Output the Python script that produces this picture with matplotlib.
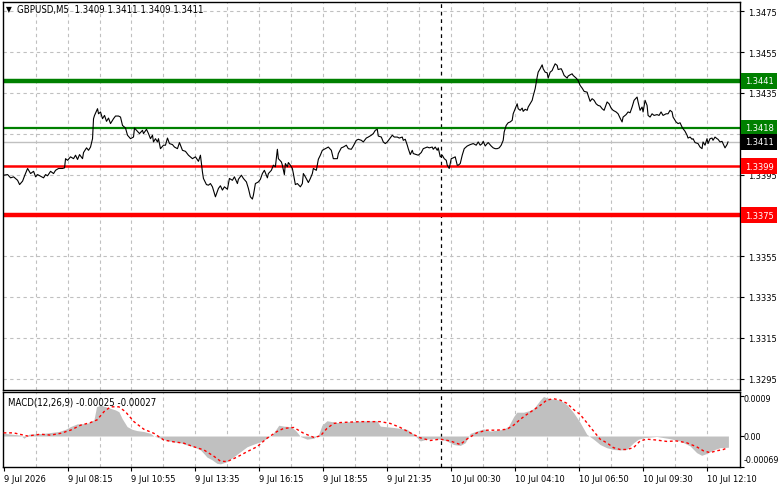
import matplotlib
matplotlib.use("Agg")
import matplotlib.pyplot as plt
import matplotlib.transforms as mtransforms

plt.rcParams["font.family"] = ["DejaVu Sans Condensed", "DejaVu Sans"]
plt.rcParams["font.stretch"] = "condensed"

# ---------------- data ----------------
price_bars = [0, 2, 3.5, 5, 7, 8, 9.5, 10.5, 12, 13.5, 15, 16, 17, 18.5, 20, 21, 22, 23.5, 25, 26,
              27.5, 29.5, 30.5, 31, 32, 33.5, 35, 36, 37, 38, 39.5, 40, 41.5, 42.5, 43.5, 44.5, 45, 45.5, 47, 47.5,
              48.5, 49.5, 50.5, 51.5, 52.5, 53.5, 55, 56, 57.5, 58.5, 59.5, 61, 62, 63.5, 65, 65.5, 67, 68, 69.5, 70,
              71.5, 72.5, 73.5, 74.5, 75, 76, 77, 77.5, 78.5, 80, 81, 82, 83, 84.5, 85.5, 87, 88, 89.5, 91,
              92.5, 94.5, 96, 97.5, 98.5, 99.5, 100, 101.5, 102.5, 103.5, 104.5, 106, 107.5, 108.5, 109.5, 110.5,
              112, 113, 114.5, 115.5, 117, 117.5, 119, 120, 121.5, 122.5, 123.5, 124.5, 125, 126, 127.5, 128.5,
              129.5, 130.5, 132, 132.5, 134, 135, 136, 137, 137.5, 139, 139.5, 140.5, 141, 142, 142.5, 143.5,
              144.5, 145, 146, 147, 148.5, 149.5, 150, 151, 152.5, 153.5, 154.5, 155, 156.5, 157.5, 158.5, 159.5,
              161, 162.5, 164, 165, 167, 167.5, 169, 170, 171.5, 172.5, 174, 175, 176.5, 177.5, 179, 180, 181.5,
              182.5, 184,
              185, 186, 187, 187.5, 189, 190, 191, 192, 193, 194.5, 195.5, 197, 198, 199.5, 200, 201, 202, 202.5,
              203.5, 204.5, 205, 206.5, 207.5, 209, 210, 212, 213, 214.5, 215, 216, 217, 217.5, 218.5, 219.5,
              220.5, 221.5, 222, 223, 224, 225, 226, 227, 227.5, 228.5, 229.5, 230.5, 232, 233.5, 235, 236.5,
              237.5, 238.5, 239.5, 240, 241, 242, 242.5, 244, 245, 246, 247, 248, 249, 250, 250.5, 251.5, 252.5,
              253.5, 254.5, 255, 256, 257, 257.5, 258.5, 259.5, 260, 261, 262, 262.5, 263.5, 264.5, 265, 266, 267,
              267.5, 268.5, 269.5, 270, 271, 272, 272.5, 273.5, 274.5, 275, 276,
              277, 277.5, 279, 279.5, 280.5, 282, 282.5, 283.5, 284.5, 285, 286.5, 287.5, 288.5, 289.5, 290.5,
              292, 292.5, 293.5, 294.5, 295.5, 296.5, 297.5, 298.5, 299.5, 300.5, 302, 303, 304, 305, 306.5,
              307.5, 308.5, 309.5, 310, 311.5, 312.5, 313.5, 314.5, 315.5, 317, 317.5, 318.5, 319.5, 320, 321,
              322, 322.5, 323.5, 324.5, 325.5, 327, 328, 329, 330, 331.5, 332.5, 333.5, 334.5, 335, 336.5, 337.5,
              338.5, 339.5, 340, 341, 342, 342.5, 343.5, 344.5, 345, 346, 347.5, 348.5, 349.5, 350, 351, 352,
              352.5, 353.5, 354.5, 355, 356, 357, 357.5, 358.5, 359.5, 360, 361, 362, 362.5]

close = [1.33947, 1.33950, 1.33934, 1.33939, 1.33922, 1.33901, 1.33918, 1.33944, 1.33980, 1.33955,
         1.33966, 1.33939, 1.33950, 1.33942, 1.33934, 1.33950, 1.33944, 1.33966, 1.33955, 1.33971,
         1.33980, 1.33980, 1.33983, 1.34028, 1.34020, 1.34037, 1.34028, 1.34045, 1.34024, 1.34048,
         1.34028, 1.34058, 1.34081, 1.34069, 1.34085, 1.34126, 1.34224, 1.34240, 1.34273, 1.34248,
         1.34257, 1.34224, 1.34240, 1.34211, 1.34227, 1.34200, 1.34224, 1.34237, 1.34237, 1.34232,
         1.34191, 1.34178, 1.34143, 1.34126, 1.34134, 1.34178, 1.34162, 1.34151, 1.34167, 1.34151,
         1.34172, 1.34151, 1.34126, 1.34143, 1.34110, 1.34126, 1.34110, 1.34126, 1.34077, 1.34094,
         1.34094, 1.34129, 1.34102, 1.34097, 1.34085, 1.34077, 1.34107, 1.34069, 1.34064,
         1.34045, 1.34028, 1.34037, 1.34015, 1.34045, 1.33963, 1.33931, 1.33901, 1.33898, 1.33906,
         1.33890, 1.33841, 1.33882, 1.33895, 1.33874, 1.33890, 1.33878, 1.33931, 1.33922, 1.33939,
         1.33906, 1.33927, 1.33947, 1.33931, 1.33914, 1.33882, 1.33841, 1.33830, 1.33849, 1.33906,
         1.33914, 1.33927, 1.33955, 1.33971, 1.33934, 1.33955, 1.33971, 1.33996, 1.33988, 1.34074,
         1.34028, 1.34012, 1.33996, 1.33950, 1.34004, 1.33988, 1.34009, 1.33996, 1.33980, 1.33955,
         1.33901, 1.33906, 1.33890, 1.33906, 1.33955, 1.33939, 1.33911, 1.33931, 1.33955, 1.33980,
         1.33971, 1.34025, 1.34045, 1.34069, 1.34077, 1.34085, 1.34069, 1.34028, 1.34028, 1.34053,
         1.34081, 1.34085, 1.34094, 1.34077, 1.34074, 1.34090, 1.34118, 1.34123, 1.34118, 1.34110,
         1.34129, 1.34134, 1.34143,
         1.34151, 1.34167, 1.34172, 1.34139, 1.34134, 1.34110, 1.34102, 1.34110, 1.34123, 1.34143,
         1.34134, 1.34134, 1.34129, 1.34134, 1.34118, 1.34123, 1.34094, 1.34077, 1.34048, 1.34069,
         1.34053, 1.34048, 1.34045, 1.34058, 1.34077, 1.34085, 1.34081, 1.34085, 1.34074, 1.34085,
         1.34069, 1.34081, 1.34037, 1.34045, 1.34028, 1.34020, 1.33996, 1.33980, 1.34028, 1.34032,
         1.34037, 1.33996, 1.33996, 1.34004, 1.34045, 1.34077, 1.34090, 1.34097, 1.34102, 1.34094,
         1.34110, 1.34094, 1.34102, 1.34113, 1.34090, 1.34102, 1.34107, 1.34090, 1.34081, 1.34077,
         1.34077, 1.34081, 1.34094, 1.34118, 1.34159, 1.34191, 1.34204, 1.34208, 1.34216, 1.34248,
         1.34273, 1.34297, 1.34273, 1.34265, 1.34276, 1.34260, 1.34270, 1.34265, 1.34281, 1.34297,
         1.34314, 1.34335, 1.34371, 1.34428, 1.34452, 1.34469, 1.34488, 1.34469, 1.34452, 1.34449,
         1.34423, 1.34452, 1.34460, 1.34472, 1.34493,
         1.34485, 1.34465, 1.34469, 1.34460, 1.34436, 1.34423, 1.34433, 1.34439, 1.34444, 1.34436,
         1.34423, 1.34411, 1.34387, 1.34374, 1.34358, 1.34354, 1.34338, 1.34309, 1.34322, 1.34314,
         1.34297, 1.34289, 1.34286, 1.34273, 1.34265, 1.34306, 1.34297, 1.34276, 1.34265, 1.34257,
         1.34248, 1.34227, 1.34208, 1.34232, 1.34244, 1.34257, 1.34253, 1.34281, 1.34314, 1.34330,
         1.34306, 1.34265, 1.34281, 1.34257, 1.34314, 1.34289, 1.34240, 1.34232, 1.34248, 1.34240,
         1.34244, 1.34240, 1.34257, 1.34240, 1.34248, 1.34248, 1.34265, 1.34257, 1.34232, 1.34208,
         1.34200, 1.34204, 1.34183, 1.34175, 1.34162, 1.34143, 1.34129, 1.34134, 1.34123, 1.34126,
         1.34107, 1.34102, 1.34085, 1.34077, 1.34110, 1.34094, 1.34126, 1.34102, 1.34126, 1.34129,
         1.34118, 1.34134, 1.34126, 1.34123, 1.34110, 1.34113, 1.34102, 1.34081, 1.34097, 1.34110]

hist_bars = [0, 8.5, 10.2, 12.7, 20.2, 27.7, 31, 33.5, 36.8, 41.8, 45.2, 46.5, 48.5, 51.8, 56, 57.7, 59.3,
             61.8, 64.3, 66.8, 70.2, 73.5, 75.2, 78.5, 81.8, 85.2, 88.5, 91.8, 95.2, 98.5, 100.2, 101.8,
             104.3, 106.8, 108.5, 111.8, 115.2, 118.5, 121.8, 125.2, 128.5, 131.8, 134.3, 136, 137.7, 140.2,
             143.5, 146, 148.5, 151.8, 155.2, 157.7, 159.3, 161.8, 166.8, 173.5, 181.8, 186.8, 188.5, 195.2,
             201.8, 205.2, 208.5, 211.8, 215.2, 218.5, 221.8, 225.2, 228.5, 231, 233.5, 236.8, 240.2, 243.5,
             246.8, 250.2, 252.7, 255.2, 256.8, 260.2, 262.7, 265.2, 266.8, 268.5, 270.2, 271.8, 275.2, 278.5,
             281.8, 285.2, 288.5, 291.8, 295.2, 298.5, 301.8, 305.2, 308.5, 311.8, 315.2, 317.7, 320.2, 326.8,
             333.5, 338.5, 343.5, 346.8, 349.3, 351.8, 355.2, 358.5, 362.7]
hist_vals = [0.00006, 0.00002, -0.00005, 0.00004, 0.00006, 0.0001, 0.00015, 0.00021, 0.00027, 0.00028,
             0.00036, 0.00065, 0.00069, 0.00064, 0.00058, 0.00054, 0.00039, 0.00021, 0.00015, 0.00012,
             0.0001, 0.00006, 0.0, -0.00005, -0.0001, -0.00013, -0.00015, -0.0002, -0.00024, -0.00031,
             -0.00039, -0.00047, -0.00053, -0.00061, -0.00062, -0.00057, -0.00046, -0.00035, -0.00024, -0.00018,
             -0.00013, -0.00005, 0.00002, 0.00013, 0.00024, 0.00022, 0.00021, 0.00013, -0.00001, -0.00007,
             -0.00005, 0.00004, 0.00024, 0.00034, 0.0003, 0.00032, 0.00034, 0.00034, 0.00022, 0.00019,
             0.00015, 0.00004, -0.00011, -0.00007, -0.00006, -0.00007, -0.00011, -0.00019, -0.00021, -0.00015,
             0.00006, 0.00011, 0.00016, 0.00011, 0.00013, 0.00015, 0.00022, 0.00043, 0.00053, 0.00053,
             0.00056, 0.00061, 0.0007, 0.0008, 0.00088, 0.00085, 0.00082, 0.0008, 0.0007, 0.00052,
             0.0003, 0.00004, -0.00007, -0.00019, -0.00026, -0.0003, -0.00031, -0.0003, -0.00015, -0.00007,
             -0.00004, -0.00001, -0.00006, -0.00011, -0.00022, -0.00037, -0.00043, -0.00039, -0.00031, -0.00026,
             -0.00025]

signal_bars = [0, 5, 12, 18.5, 23.5, 28.5, 33.5, 38.5, 43.5, 46.8, 50.2, 53.5, 57.7, 61, 65.2, 70.2, 75.2,
               80.2, 85.2, 90.2, 95.2, 100.2, 105.2, 108.5, 111.8, 116.8, 121.8, 126.8, 131.8, 136.8, 140.2,
               145.2, 150.2, 155.2, 158.5, 161.8, 165.2, 168.5, 178.5, 188.5, 193.5, 198.5, 203.5, 208.5, 213.5,
               218.5, 223.5, 228.5, 231.8, 236.8, 241.8, 246.8, 251.8, 255.2, 258.5, 261.8, 265.2, 268.5, 271.8,
               275.2, 278.5, 281.8, 285.2, 288.5, 291.8, 295.2, 298.5, 301.8, 305.2, 308.5, 311.8, 315.2, 318.5,
               321.8, 326.8, 331.8, 336.8, 341.8, 346.8, 350.2, 353.5, 356.8, 360.2, 361.8]
signal_vals = [0.00007, 0.00007, 0.0, 0.00004, 0.00002, 0.00006, 0.00013, 0.00024, 0.0003, 0.00036,
               0.00054, 0.00065, 0.00065, 0.00054, 0.00032, 0.00015, 0.00006, -0.00009, -0.00013, -0.00016,
               -0.00024, -0.00031, -0.00045, -0.00056, -0.00057, -0.00047, -0.00035, -0.00024, -0.00005, 0.0001,
               0.00017, 0.00019, 0.00006, -0.00003, 0.0, 0.00017, 0.00028, 0.0003, 0.00032, 0.00032,
               0.00028, 0.00019, 0.00007, -0.00004, -0.0001, -0.00007, -0.00011, -0.00019, -0.00007, 0.00007,
               0.00013, 0.00013, 0.00015, 0.00024, 0.00037, 0.00048, 0.00058, 0.00068, 0.0008, 0.00083,
               0.0008, 0.00073, 0.00059, 0.00048, 0.0003, 0.00011, -0.00007, -0.00015, -0.00026, -0.0003,
               -0.0003, -0.00026, -0.00011, -0.00007, -0.00009, -0.00012, -0.00011, -0.00015, -0.00024, -0.00033,
               -0.00037, -0.00033, -0.0003, -0.00027]

price_ticks = [1.3475, 1.3455, 1.3435, 1.3415, 1.3395, 1.3375, 1.3355, 1.3335, 1.3315, 1.3295]
levels = [1.3441, 1.3418, 1.3399, 1.3375]
level_colors = ["#008000", "#008000", "#ff0000", "#ff0000"]
level_widths = [3.2, 1.6, 1.8, 3.2]
last_price = 1.3411

time_tick_bars = [0, 32, 64, 96, 128, 160, 192, 224, 256, 288, 320, 352]
time_tick_labels = ["9 Jul 2026", "9 Jul 08:15", "9 Jul 10:55", "9 Jul 13:35", "9 Jul 16:15",
                    "9 Jul 18:55", "9 Jul 21:35", "10 Jul 00:30", "10 Jul 04:10", "10 Jul 06:50",
                    "10 Jul 09:30", "10 Jul 12:10"]
day_separator_bar = 219
macd_ticks = [0.0009, 0.0, -0.00069]
macd_tick_labels = ["0.0009", "0.00", "-0.00069"]
header = "GBPUSD,M5  1.3409 1.3411 1.3409 1.3411"
macd_header = "MACD(12,26,9) -0.00025 -0.00027"

# ---------------- layout ----------------
W, H = 781, 489
fig = plt.figure(figsize=(W / 100, H / 100), dpi=100, facecolor="white")


def px_rect(l, t, r, b):
    return [l / W, 1 - b / H, (r - l) / W, (b - t) / H]


ax = fig.add_axes(px_rect(3, 3, 740, 391))
ax2 = fig.add_axes(px_rect(3, 393, 740, 468), sharex=ax)

FS = 6.7
GRID = dict(color="#c0c0c0", lw=0.8, ls=(0, (3, 3)), zorder=0)
XMIN, XMAX = -0.3, 368.5

for a in (ax, ax2):
    for s in a.spines.values():
        s.set_color("black")
        s.set_linewidth(1.0)
    for gb in range(16, int(XMAX), 16):
        a.axvline(gb, **GRID)
    a.axvline(day_separator_bar, color="black", lw=0.9, ls=(0, (3, 3)), zorder=1)

# main panel
ax.set_xlim(XMIN, XMAX)
ax.set_ylim(1.32894, 1.34796)
for t in price_ticks:
    ax.axhline(t, **GRID)
ax.axhline(last_price, color="#c0c0c0", lw=1.0, zorder=1)
for lv, c, w in zip(levels, level_colors, level_widths):
    ax.axhline(lv, color=c, lw=w, zorder=2)
ax.plot(price_bars, close, color="black", lw=0.8, zorder=3)

ax.yaxis.tick_right()
ax.set_yticks(price_ticks)
# the 1.3375 tick label is fully hidden by the red level box in the reference
ax.set_yticklabels(["" if t in levels else f"{t:.4f}" for t in price_ticks])
ax.tick_params(axis="y", direction="out", length=3, width=0.8, pad=3, labelsize=FS, colors="black")
ax.tick_params(axis="x", bottom=False, labelbottom=False)

trans_lbl = mtransforms.blended_transform_factory(ax.transAxes, ax.transData)
box_items = list(zip(levels, level_colors)) + [(last_price, "black")]
for lv, c in box_items:
    ax.text(1.0 + 5 / 737, lv, f"{lv:.4f}", transform=trans_lbl, ha="left", va="center",
            fontsize=FS, color="white", zorder=10, clip_on=False,
            bbox=dict(boxstyle="square,pad=0.38", fc=c, ec="none"))

fig.text(6 / W, 1 - 10 / H, "\u25bc", fontsize=6, ha="left", va="center", color="black")
fig.text(17 / W, 1 - 10 / H, header, fontsize=6.9, ha="left", va="center", color="black")

# MACD panel
ax2.set_ylim(-0.00069, 0.00098)
ax2.fill_between(hist_bars, 0, hist_vals, color="#c0c0c0", lw=0, zorder=2)
ax2.plot(signal_bars, signal_vals, color="#ff0000", lw=1.0, ls=(0, (2, 2)), zorder=3)
ax2.yaxis.tick_right()
ax2.set_yticks(macd_ticks)
ax2.set_yticklabels([])
ax2.tick_params(axis="y", direction="out", length=3, width=0.8, labelsize=FS)
trans2 = mtransforms.blended_transform_factory(ax2.transAxes, ax2.transData)
offsets = [-3, 0, 7]
for v, lab, off in zip(macd_ticks, macd_tick_labels, offsets):
    ax2.text(1.0 + 4 / 737, v, lab,
             transform=trans2 + mtransforms.ScaledTranslation(0, off / 100, fig.dpi_scale_trans),
             ha="left", va="center", fontsize=6.4, clip_on=False)
ax2.text(5 / 737, 0.87, macd_header, transform=ax2.transAxes, ha="left", va="center", fontsize=6.9)

ax2.set_xticks(time_tick_bars)
ax2.set_xticklabels(time_tick_labels)
ax2.tick_params(axis="x", direction="out", length=3, width=0.8, pad=2, labelsize=FS)
for lab in ax2.get_xticklabels():
    lab.set_ha("left")

fig.savefig("out.png", dpi=100, facecolor="white")
